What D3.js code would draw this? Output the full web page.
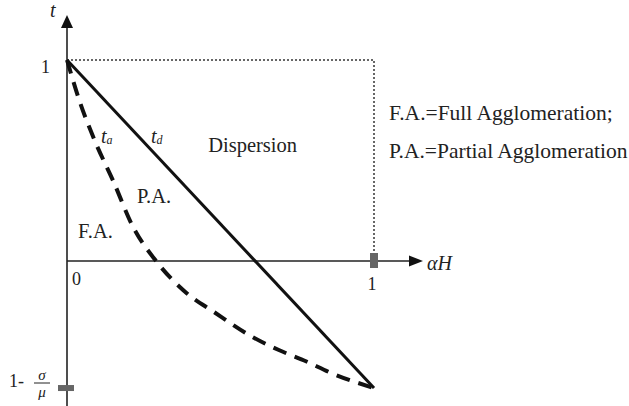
<!DOCTYPE html>
<html>
<head>
<meta charset="utf-8">
<script src="https://cdn.jsdelivr.net/npm/d3@7"></script>
<style>
  html, body { margin: 0; padding: 0; background: #fff; }
  svg { display: block; }
  text { font-family: "Liberation Serif", "DejaVu Serif", serif; fill: #222; }
</style>
</head>
<body>
<svg id="chart" width="629" height="406"></svg>
<script>
// Threshold t_d: straight line from (0, 1) to (1, 1 - sigma/mu)
const lowValue = -0.632;               // value of 1 - sigma/mu
const tdPoints = [[0, 1], [1, lowValue]];

// Threshold t_a: convex curve below t_d, meeting it at both ends
const taAlpha = [0, 0.04, 0.09, 0.15, 0.215, 0.29, 0.39, 0.48, 0.61, 0.69, 0.78, 0.86, 1];
const taValue = [1, 0.80, 0.60, 0.40, 0.17, 0.0, -0.16, -0.255, -0.383, -0.443, -0.50, -0.557, lowValue];

// Region labels and legend lines
const regionLabels = [
  { text: "Dispersion", a: 0.460, t: 0.54 },
  { text: "P.A.",       a: 0.228, t: 0.29 },
  { text: "F.A.",       a: 0.036, t: 0.115 }
];
const legendLines = ["F.A.=Full Agglomeration;", "P.A.=Partial Agglomeration"];

const svg = d3.select("#chart");
const x = d3.scaleLinear().domain([0, 1]).range([67, 374]);
const y = d3.scaleLinear().domain([0, 1]).range([261, 60]);

// dotted box marking t = 1 and alpha H = 1
svg.append("path")
  .attr("d", `M${x(0)},${y(1)} H${x(1)} V${y(0)}`)
  .attr("fill", "none")
  .attr("stroke", "#666")
  .attr("stroke-width", 2)
  .attr("stroke-dasharray", "2,2");

// axes
svg.append("line")
  .attr("x1", x(0)).attr("x2", x(0))
  .attr("y1", 406).attr("y2", 26)
  .attr("stroke", "#222").attr("stroke-width", 1.6);
svg.append("path")
  .attr("d", `M${x(0)},15 L${x(0) - 6},28 L${x(0) + 6},28 Z`)
  .attr("fill", "#111");

svg.append("line")
  .attr("x1", x(0)).attr("x2", 410)
  .attr("y1", y(0)).attr("y2", y(0))
  .attr("stroke", "#222").attr("stroke-width", 1.6);
svg.append("path")
  .attr("d", `M423,${y(0)} L409,${y(0) - 5.5} L409,${y(0) + 5.5} Z`)
  .attr("fill", "#111");

// grey tick marks
svg.append("rect")
  .attr("x", x(1) - 4).attr("y", y(0) - 8)
  .attr("width", 8).attr("height", 15)
  .attr("fill", "#666");
svg.append("rect")
  .attr("x", x(0) - 9).attr("y", y(lowValue) - 3)
  .attr("width", 16).attr("height", 6)
  .attr("fill", "#666");

// curves
const line = d3.line().x(d => x(d[0])).y(d => y(d[1]));
svg.append("path")
  .attr("d", line(tdPoints))
  .attr("fill", "none")
  .attr("stroke", "#111")
  .attr("stroke-width", 3);

const taData = taAlpha.map((a, i) => [a, taValue[i]]);
svg.append("path")
  .attr("d", line.curve(d3.curveMonotoneX)(taData))
  .attr("fill", "none")
  .attr("stroke", "#111")
  .attr("stroke-width", 4)
  .attr("stroke-dasharray", "14,9");

// axis labels
svg.append("text").attr("x", 50).attr("y", 17)
  .attr("font-size", 20).attr("font-style", "italic").text("t");
svg.append("text").attr("x", 41).attr("y", 73)
  .attr("font-size", 18).text("1");
svg.append("text").attr("x", 72).attr("y", 285)
  .attr("font-size", 18).text("0");
svg.append("text").attr("x", x(1) - 2).attr("y", 290)
  .attr("font-size", 18).attr("text-anchor", "middle").text("1");
svg.append("text").attr("x", 427).attr("y", 270)
  .attr("font-size", 20).attr("font-style", "italic").text("αH");

// 1 - sigma/mu label
svg.append("text").attr("x", 9).attr("y", 387).attr("font-size", 18).text("1-");
svg.append("text").attr("x", 42).attr("y", 380).attr("font-size", 15)
  .attr("font-style", "italic").attr("text-anchor", "middle").text("σ");
svg.append("line").attr("x1", 34).attr("x2", 50).attr("y1", 383).attr("y2", 383)
  .attr("stroke", "#222").attr("stroke-width", 1);
svg.append("text").attr("x", 42).attr("y", 397).attr("font-size", 15)
  .attr("font-style", "italic").attr("text-anchor", "middle").text("μ");

// curve names
const ta = svg.append("text").attr("x", 101).attr("y", 143).attr("font-size", 20).attr("font-style", "italic");
ta.append("tspan").text("t");
ta.append("tspan").attr("font-size", 12).attr("dy", 1).text("a");
const td = svg.append("text").attr("x", 151).attr("y", 143).attr("font-size", 20).attr("font-style", "italic");
td.append("tspan").text("t");
td.append("tspan").attr("font-size", 12).attr("dy", 1).text("d");

// region labels
svg.selectAll("text.region")
  .data(regionLabels)
  .join("text")
  .attr("class", "region")
  .attr("x", d => x(d.a))
  .attr("y", d => y(d.t))
  .attr("font-size", 20.5)
  .text(d => d.text);

// legend
svg.selectAll("text.legend")
  .data(legendLines)
  .join("text")
  .attr("class", "legend")
  .attr("x", 389)
  .attr("y", (d, i) => 120 + i * 38)
  .attr("font-size", 21.5)
  .text(d => d);
</script>
</body>
</html>
